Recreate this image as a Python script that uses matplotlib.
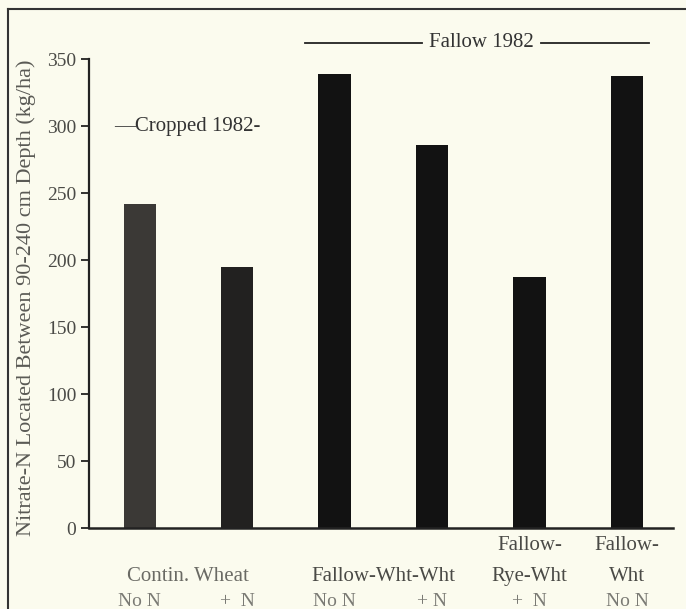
import numpy as np
import matplotlib.pyplot as plt

# values (kg/ha)
nitrate = [242, 195, 339, 286, 187, 337]
treat = ["No N", "+  N", "No N", "+ N", "+  N", "No N"]
ytick_vals = [0, 50, 100, 150, 200, 250, 300, 350]
bar_colors = ["#3b3936", "#222120", "#121212", "#121212", "#121212", "#121212"]

bg = "#fbfbee"
txt = "#4a4a46"

plt.rcParams['font.family'] = ['Liberation Serif', 'DejaVu Serif']

fig = plt.figure(figsize=(6.86, 6.09), dpi=100, facecolor=bg)
ax = fig.add_axes([0.1297, 0.133, 0.851, 0.770])
ax.set_facecolor(bg)

x = np.arange(len(nitrate))
ax.bar(x, nitrate, width=0.33, color=bar_colors, zorder=2)

ax.set_xlim(-0.52, 5.47)
ax.set_ylim(0, 350)
ax.set_yticks(ytick_vals)
ax.set_yticklabels([str(v) for v in ytick_vals], fontsize=14, color=txt)
ax.set_xticks([])
for s in ["top", "right"]:
    ax.spines[s].set_visible(False)
ax.spines["left"].set_linewidth(1.6)
ax.spines["bottom"].set_linewidth(1.8)
ax.spines["left"].set_color("#222")
ax.spines["bottom"].set_color("#222")
ax.tick_params(axis="y", direction="out", length=6, width=1.3, color="#222", pad=3)

# y label placed as free text so it sits inside the scan frame
fig.text(26 / 686, 1 - 298 / 609, "Nitrate-N Located Between 90-240 cm Depth (kg/ha)",
         rotation=90, ha="center", va="center", fontsize=16, color="#5a5a55")

# group annotations
ax.text(0.49, 300, "\u2014Cropped 1982-", ha="center", va="center",
        fontsize=15, color="#333")
ax.text(3.51, 362, "Fallow 1982", ha="center", va="center",
        fontsize=15, color="#333", clip_on=False)
ax.plot([1.70, 2.90], [362, 362], color="#222", lw=1.3, clip_on=False)
ax.plot([4.12, 5.23], [362, 362], color="#222", lw=1.3, clip_on=False)

# category labels under the axis
row1, row2, row3 = -13, -36.5, -54.5
ax.text(0.5, row2, "Contin. Wheat", ha="center", va="center", fontsize=15,
        color="#6a6a64", clip_on=False)
ax.text(2.5, row2, "Fallow-Wht-Wht", ha="center", va="center", fontsize=15,
        color=txt, clip_on=False)
ax.text(4, row1, "Fallow-", ha="center", va="center", fontsize=15,
        color=txt, clip_on=False)
ax.text(4, row2, "Rye-Wht", ha="center", va="center", fontsize=15,
        color=txt, clip_on=False)
ax.text(5, row1, "Fallow-", ha="center", va="center", fontsize=15,
        color=txt, clip_on=False)
ax.text(5, row2, "Wht", ha="center", va="center", fontsize=15,
        color=txt, clip_on=False)
for xi, t in zip(x, treat):
    ax.text(xi, row3, t, ha="center", va="center", fontsize=14,
            color="#7a7a74", clip_on=False)

# frame of the scanned figure (only left and top edges visible)
fig.add_artist(plt.Line2D([8 / 686, 8 / 686], [0, 1 - 9 / 609],
                          transform=fig.transFigure, color="#333", lw=1.5))
fig.add_artist(plt.Line2D([8 / 686, 1], [1 - 9 / 609, 1 - 9 / 609],
                          transform=fig.transFigure, color="#333", lw=1.5))

fig.savefig("out.png", dpi=100, facecolor=bg)
